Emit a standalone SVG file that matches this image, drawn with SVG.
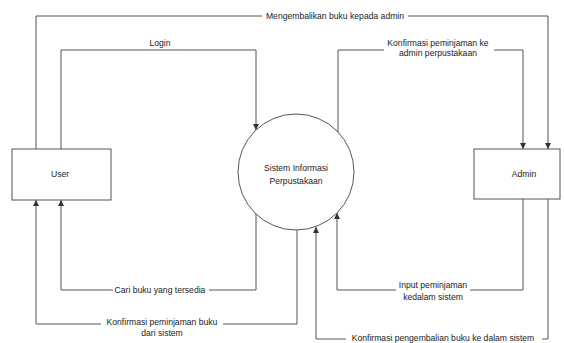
<svg xmlns="http://www.w3.org/2000/svg" width="564" height="343" viewBox="0 0 564 343">
<defs>
<style>
.n{fill:#fff;stroke:#555;stroke-width:1}
.c{fill:none;stroke:#555;stroke-width:1}
.t{font-family:"Liberation Sans",Arial,sans-serif;font-size:8.6px;fill:#222;text-anchor:middle}
.bg{fill:#fff}
</style>
<marker id="ah" viewBox="0 0 10 10" refX="10" refY="5" markerWidth="6" markerHeight="6" markerUnits="userSpaceOnUse" orient="auto">
<path d="M0,0 L10,5 L0,10 Z" fill="#333"/>
</marker>
</defs>
<rect width="564" height="343" fill="#fff"/>
<g id="connectors">
<path class="c" d="M36,149 V16 H548 V149" marker-end="url(#ah)"/>
<path class="c" d="M61,149 V50 H256 V130" marker-end="url(#ah)"/>
<path class="c" d="M338,132 V50 H523 V149" marker-end="url(#ah)"/>
<path class="c" d="M256,214 V290 H61 V200" marker-end="url(#ah)"/>
<path class="c" d="M297,230 V324 H36 V200" marker-end="url(#ah)"/>
<path class="c" d="M523,199 V290 H337 V213" marker-end="url(#ah)"/>
<path class="c" d="M548,199 V339 H316 V227" marker-end="url(#ah)"/>
</g>
<g id="labels">
<rect class="bg" x="262" y="11" width="146" height="10"/>
<text class="t" x="335" y="19">Mengembalikan buku kepada admin</text>
<text class="t" x="160" y="46">Login</text>
<rect class="bg" x="384" y="38" width="110" height="20"/>
<text class="t" x="438" y="46">Konfirmasi peminjaman ke</text>
<text class="t" x="438" y="56">admin perpustakaan</text>
<rect class="bg" x="113" y="285" width="96" height="10"/>
<text class="t" x="160" y="293">Cari buku yang tersedia</text>
<rect class="bg" x="101" y="317" width="122" height="21"/>
<text class="t" x="162" y="325">Konfirmasi peminjaman buku</text>
<text class="t" x="162" y="336">dari sistem</text>
<rect class="bg" x="396" y="280" width="74" height="22"/>
<text class="t" x="433" y="288">Input peminjaman</text>
<text class="t" x="433" y="300">kedalam sistem</text>
<rect class="bg" x="346" y="334" width="196" height="9"/>
<text class="t" x="443" y="341">Konfirmasi pengembalian buku ke dalam sistem</text>
</g>
<g id="user">
<rect class="n" x="12" y="149" width="99" height="51"/>
<text class="t" x="60" y="177">User</text>
</g>
<g id="sistem">
<circle class="n" cx="296" cy="172" r="58"/>
<text class="t" x="296" y="171">Sistem Informasi</text>
<text class="t" x="296" y="184">Perpustakaan</text>
</g>
<g id="admin">
<rect class="n" x="474" y="149" width="86" height="50"/>
<text class="t" x="524" y="177">Admin</text>
</g>
</svg>
